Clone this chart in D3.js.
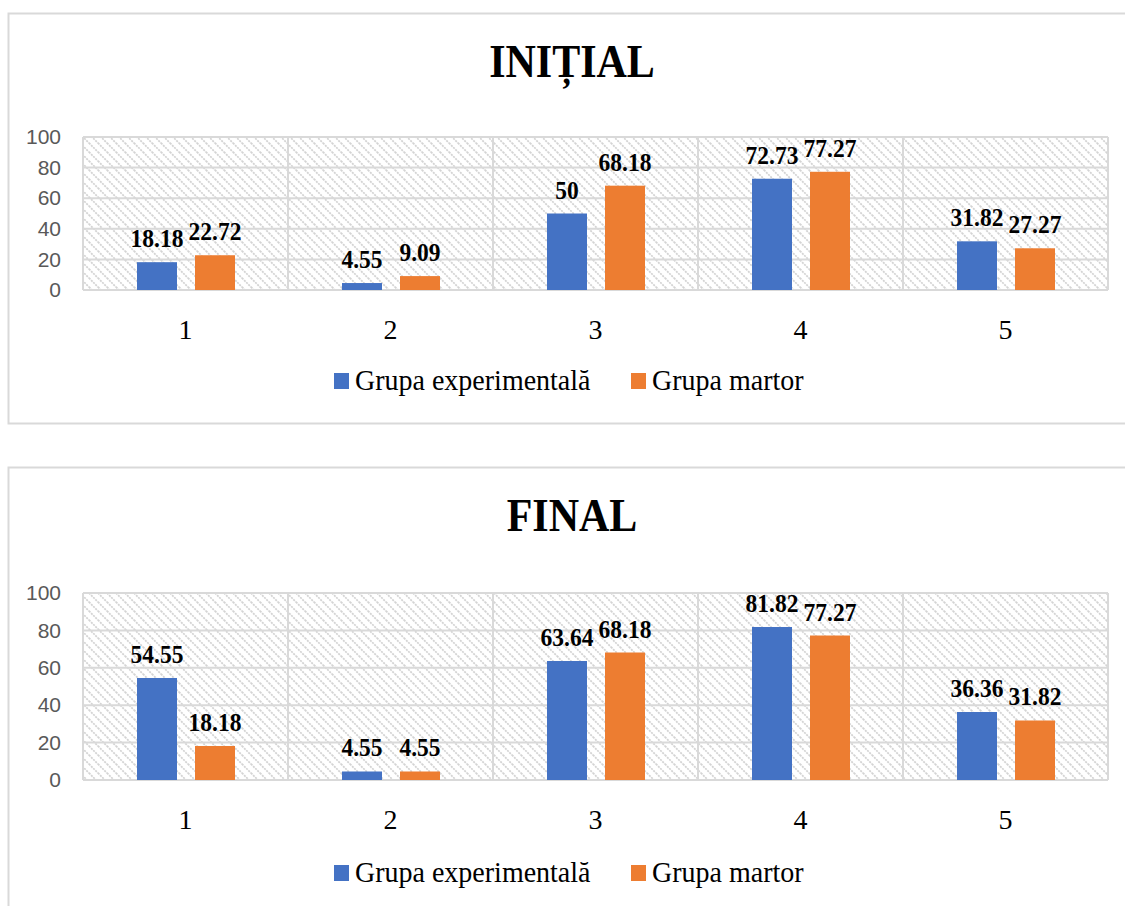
<!DOCTYPE html>
<html><head><meta charset="utf-8">
<script src="https://cdn.jsdelivr.net/npm/d3@7/dist/d3.min.js"></script>
<style>body{margin:0;background:#fff;overflow:hidden}</style>
</head><body>
<svg id="c" width="1125" height="906"></svg>
<script>
const categories = ["1","2","3","4","5"];
const seriesNames = ["Grupa experimentală","Grupa martor"];
const seriesColors = ["#4472C4","#ED7D31"];
const yTicks = [0,20,40,60,80,100];
const initialExp = [18.18,4.55,50,72.73,31.82];
const initialMartor = [22.72,9.09,68.18,77.27,27.27];
const finalExp = [54.55,4.55,63.64,81.82,36.36];
const finalMartor = [18.18,4.55,68.18,77.27,31.82];

const svg = d3.select("#c");
const defs = svg.append("defs");
const pat = defs.append("pattern").attr("id","hatch").attr("patternUnits","userSpaceOnUse")
  .attr("width",9).attr("height",9);
pat.append("rect").attr("width",9).attr("height",9).attr("fill","#fff");
pat.append("path").attr("d","M-1,-1 L10,10 M-1,8 L1,10 M8,-1 L10,1")
  .attr("stroke","#d3d3d3").attr("stroke-width",1.7).attr("stroke-dasharray","2,1");

const serif = "'Liberation Serif','Times New Roman',serif";
const sans = "'Liberation Sans','Open Sans',sans-serif";

function panel(cfg){
  const g = svg.append("g");
  g.append("rect").attr("x",8.5).attr("y",cfg.boxTop+0.5).attr("width",1140).attr("height",cfg.boxH)
    .attr("fill","#fff").attr("stroke","#d9d9d9").attr("stroke-width",2);
  g.append("text").attr("transform",`translate(572,${cfg.titleY}) scale(1,1.13)`).attr("text-anchor","middle")
    .attr("font-family",serif).attr("font-weight","bold").attr("font-size",42).attr("fill","#000")
    .text(cfg.title);
  const x0 = d3.scaleBand().domain(categories).range([83,1108]).padding(0);
  const x1 = d3.scaleBand().domain(seriesNames).range([54,152]).paddingInner(18/58).paddingOuter(0);
  const y = d3.scaleLinear().domain([0,100]).range([cfg.plotBottom,cfg.plotTop]);
  g.append("rect").attr("x",83).attr("y",cfg.plotTop).attr("width",1025).attr("height",cfg.plotBottom-cfg.plotTop)
    .attr("fill","url(#hatch)");
  g.selectAll(".hg").data(yTicks).join("line").attr("x1",83).attr("x2",1108)
    .attr("y1",d=>y(d)).attr("y2",d=>y(d)).attr("stroke","#d9d9d9").attr("stroke-width",2);
  const bounds = categories.map(c=>x0(c)).concat([x0.range()[1]]);
  g.selectAll(".vg").data(bounds).join("line").attr("x1",d=>d).attr("x2",d=>d)
    .attr("y1",cfg.plotTop).attr("y2",cfg.plotBottom).attr("stroke","#d9d9d9").attr("stroke-width",2);
  const ya = d3.axisLeft(y).tickValues(yTicks).tickSize(0).tickPadding(0);
  const ag = g.append("g").attr("transform","translate(61,0)").call(ya);
  ag.select(".domain").remove();
  ag.selectAll("text").attr("font-family",sans).attr("font-size",21).attr("fill","#595959");
  const xa = d3.axisBottom(x0).tickSize(0).tickPadding(0);
  const xg = g.append("g").attr("transform",`translate(0,${cfg.plotBottom})`).call(xa);
  xg.select(".domain").remove();
  xg.selectAll("text").attr("font-family",serif).attr("font-size",28).attr("fill","#000")
    .attr("dy",null).attr("y",49);
  const rows = [];
  cfg.series.forEach((vals,si)=>vals.forEach((v,ci)=>rows.push({s:seriesNames[si],c:categories[ci],v,si})));
  g.selectAll(".bar").data(rows).join("rect")
    .attr("x",d=>x0(d.c)+x1(d.s)).attr("width",x1.bandwidth())
    .attr("y",d=>y(d.v)).attr("height",d=>y(0)-y(d.v)).attr("fill",d=>seriesColors[d.si]);
  g.selectAll(".lbl").data(rows).join("text")
    .attr("transform",d=>`translate(${x0(d.c)+x1(d.s)+x1.bandwidth()/2},${y(d.v)-15}) scale(1,1.1)`)
    .attr("text-anchor","middle").attr("font-family",serif).attr("font-weight","bold")
    .attr("font-size",23.5).attr("fill","#000").text(d=>d.v);
  const lg = g.append("g");
  const lx = [334,631];
  seriesNames.forEach((n,i)=>{
    lg.append("rect").attr("x",lx[i]).attr("y",cfg.legendY-8).attr("width",15).attr("height",16).attr("fill",seriesColors[i]);
    lg.append("text").attr("transform",`translate(${lx[i]+21},${cfg.legendY+9}) scale(1,1.06)`).attr("font-family",serif)
      .attr("font-size",28).attr("fill","#000").text(n);
  });
}

panel({title:"INIȚIAL",boxTop:13,boxH:410,titleY:77,plotTop:137,plotBottom:290,legendY:381,
  series:[initialExp,initialMartor]});
panel({title:"FINAL",boxTop:467,boxH:460,titleY:531,plotTop:593,plotBottom:780,legendY:873,
  series:[finalExp,finalMartor]});
</script>
</body></html>
